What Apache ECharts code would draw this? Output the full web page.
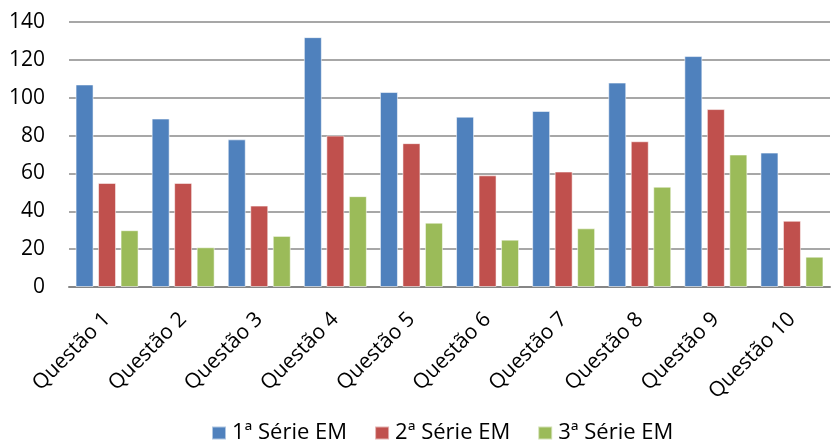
<!DOCTYPE html>
<html>
<head>
<meta charset="utf-8">
<script src="https://cdn.jsdelivr.net/npm/echarts@6/dist/echarts.min.js"></script>
<style>
  html, body { margin: 0; padding: 0; background: #fff; }
  #chart { width: 831px; height: 441px; }
</style>
</head>
<body>
<div id="chart"></div>
<script>
// Questions on the x axis
const categories = ['Questão 1', 'Questão 2', 'Questão 3', 'Questão 4', 'Questão 5',
                    'Questão 6', 'Questão 7', 'Questão 8', 'Questão 9', 'Questão 10'];

// Counts per school year
const serie1 = [107, 89, 78, 132, 103, 90, 93, 108, 122, 71];
const serie2 = [55, 55, 43, 80, 76, 59, 61, 77, 94, 35];
const serie3 = [30, 21, 27, 48, 34, 25, 31, 53, 70, 16];

const seriesNames = ['1ª Série EM', '2ª Série EM', '3ª Série EM'];
const colors = ['#4F81BD', '#C0504D', '#9BBB59'];

const FONT = '"Open Sans", Lato, sans-serif';

const chart = echarts.init(document.getElementById('chart'), null, { renderer: 'canvas' });

function bar(name, data, color) {
  return {
    name: name,
    type: 'bar',
    data: data,
    barWidth: 18,
    barGap: '25%',
    itemStyle: { color: color, borderColor: 'rgba(255,255,255,0.55)', borderWidth: 1 },
    emphasis: { disabled: true }
  };
}

chart.setOption({
  animation: false,
  textStyle: { fontFamily: FONT },
  grid: { left: 69, right: 1, top: 22, bottom: 154, containLabel: false },
  legend: {
    left: 211,
    top: 420,
    padding: 0,
    icon: 'rect',
    itemWidth: 14,
    itemHeight: 13,
    itemGap: 27,
    textStyle: { fontSize: 22, lineHeight: 26, color: '#000', fontFamily: FONT, padding: [0, 0, 0, 1] },
    data: seriesNames
  },
  xAxis: {
    type: 'category',
    data: categories,
    axisLine: { lineStyle: { color: '#868686', width: 2 } },
    axisTick: { show: false },
    axisLabel: { rotate: 45, fontSize: 21, color: '#000', margin: 29, interval: 0 }
  },
  yAxis: {
    type: 'value',
    min: 0,
    max: 140,
    interval: 20,
    axisLine: { show: false },
    axisTick: { show: false },
    axisLabel: { fontSize: 21, color: '#000', margin: 24 },
    splitLine: { lineStyle: { color: '#8a8a8a', width: 1.5 } }
  },
  series: [
    bar(seriesNames[0], serie1, colors[0]),
    bar(seriesNames[1], serie2, colors[1]),
    bar(seriesNames[2], serie3, colors[2])
  ]
});
</script>
</body>
</html>
